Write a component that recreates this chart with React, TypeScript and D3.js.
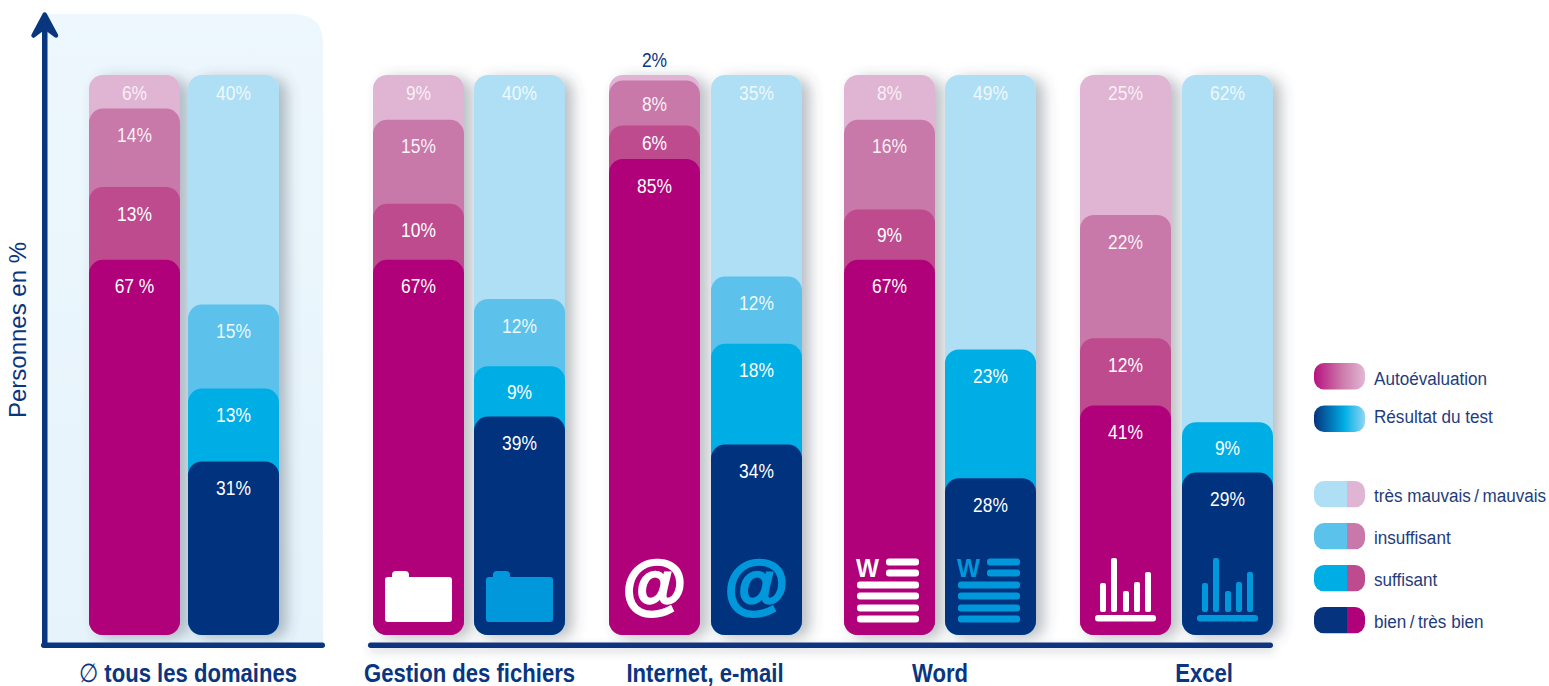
import React from "react";
import * as d3 from "d3";

const categories = ["∅ tous les domaines", "Gestion des fichiers", "Internet, e-mail", "Word", "Excel"];
// values bottom-to-top: bien/très bien, suffisant, insuffisant, très mauvais/mauvais
const selfGood = [67, 67, 85, 67, 41];
const selfFair = [13, 10, 6, 9, 12];
const selfPoor = [14, 15, 8, 16, 22];
const selfBad = [6, 9, 2, 8, 25];
const testGood = [31, 39, 34, 28, 29];
const testFair = [13, 9, 18, 23, 9];
const testPoor = [15, 12, 12, 0, 0];
const testBad = [40, 40, 35, 49, 62];
const selfColors = ["#b0007a", "#bd4b8e", "#c979a9", "#e0b5d3"];
const testColors = ["#06337e", "#00aee6", "#5bc2ec", "#afdff5"];
const legendLevels = ["très mauvais\u2009/\u2009mauvais", "insuffisant", "suffisant", "bien\u2009/\u2009très bien"];
const legendRows = ["Autoévaluation", "Résultat du test"];
const yTitle = "Personnes en %";

const NAVY = "#0a357f";
const TEXT = "#1f3c7c";
const SANS = "'Liberation Sans', Arial, sans-serif";
const BW = 91;
const R = 14;

const y = d3.scaleLinear().domain([0, 100]).range([635, 75]);
const selfX = d3.scaleOrdinal<string, number>().domain(categories).range([89, 373, 609, 844, 1080]);
const testX = d3.scaleOrdinal<string, number>().domain(categories).range([188, 474, 711, 945, 1182]);
const labelX = d3.scaleOrdinal<string, number>().domain(categories).range([188, 469.5, 705, 940, 1204]);

// Condensed text: no narrow face is installed, so a regular face is squeezed horizontally.
function Narrow({ x, y: py, sx, size, anchor, fill, opacity, weight, children }: any) {
  return (
    <text
      transform={`translate(${x},${py}) scale(${sx},1)`}
      dy="0.35em"
      textAnchor={anchor ?? "start"}
      fontFamily={SANS}
      fontSize={size}
      fontWeight={weight ?? 400}
      fill={fill}
      fillOpacity={opacity ?? 1}
    >
      {children}
    </text>
  );
}

function Stack({ x, values, colors, cat, bright }: { x: number; values: number[]; colors: string[]; cat: string; bright: boolean }) {
  const lastIdx = values.length - 1;
  let cum = 0;
  const segs = values.map((v, i) => {
    const lo = cum;
    cum += v;
    return { v, i, lo, hi: i === lastIdx ? 100 : Math.min(cum, 100) };
  });
  return (
    <g>
      <g filter="url(#barShadow)">
        {[...segs].reverse().filter((s) => s.v > 0).map((s) => (
          <rect key={s.i} x={x} y={y(s.hi)} width={BW} height={y(0) - y(s.hi)} rx={R} fill={colors[s.i]} />
        ))}
      </g>
      {segs.filter((s) => s.v > 0).map((s) => {
        const top = y(s.hi);
        const isTop = s.i === lastIdx;
        const h = y(s.lo) - y(s.hi);
        const tiny = s.v <= 2;
        const cy = tiny ? top - 15 : isTop ? top + 18 : top + Math.min(h / 2 + 0.5, 26.5);
        const fill = tiny ? NAVY : "#ffffff";
        const op = tiny ? 1 : isTop ? 0.8 : s.i === 2 ? 0.92 : 1;
        const label = bright && s.v === 67 && cat === categories[0] ? "67 %" : `${s.v}%`;
        return (
          <Narrow key={s.i} x={x + BW / 2} y={cy} sx={0.87} size={20} anchor="middle" fill={fill} opacity={op}>
            {label}
          </Narrow>
        );
      })}
    </g>
  );
}

function FolderIcon({ x, fill }: { x: number; fill: string }) {
  return (
    <g fill={fill}>
      <rect x={x + 12} y={577} width={67} height={45} rx={3} />
      <rect x={x + 19} y={571} width={17} height={12} rx={4} />
    </g>
  );
}

function AtIcon({ x, fill }: { x: number; fill: string }) {
  return (
    <text x={x + BW / 2} y={606} textAnchor="middle" fontFamily={SANS} fontWeight={700} fontSize={65} fill={fill} stroke={fill} strokeWidth={2.6}>
      @
    </text>
  );
}

function WordIcon({ x, fill }: { x: number; fill: string }) {
  const full = [585, 596, 608, 619];
  const short = [562, 573];
  return (
    <g fill={fill}>
      <text x={x + 12} y={577} fontFamily={SANS} fontWeight={700} fontSize={25} textLength={23} lengthAdjust="spacingAndGlyphs">
        W
      </text>
      {short.map((c) => <rect key={c} x={x + 42} y={c - 3.5} width={33} height={7} rx={3} />)}
      {full.map((c) => <rect key={c} x={x + 13} y={c - 3.5} width={62} height={7} rx={3} />)}
    </g>
  );
}

function ChartIcon({ x, fill }: { x: number; fill: string }) {
  const bars = [[23, 583], [34, 558], [46, 591], [57, 582], [68, 572]];
  return (
    <g fill={fill}>
      {bars.map(([o, t]) => <rect key={o} x={x + o - 3} y={t} width={6} height={612 - t} rx={2} />)}
      <rect x={x + 15} y={615} width={61} height={6.5} rx={3} />
    </g>
  );
}

const icons = [null, FolderIcon, AtIcon, WordIcon, ChartIcon];

export default function App() {
  const legendY = d3.scalePoint<string>().domain(legendLevels).range([481, 607]);
  return (
    <svg width={1549} height={686} viewBox="0 0 1549 686" style={{ position: "absolute", left: 0, top: 0, background: "#fff", display: "block" }}>
      <defs>
        <filter id="barShadow" x="-30%" y="-10%" width="170%" height="120%">
          <feDropShadow dx={8} dy={3} stdDeviation={7} floodColor="#44505c" floodOpacity={0.36} />
        </filter>
        <filter id="lineShadow" x="-5%" y="-300%" width="110%" height="700%">
          <feDropShadow dx={1} dy={4} stdDeviation={4} floodColor="#44505c" floodOpacity={0.22} />
        </filter>
        <linearGradient id="panelFill" x1="0" x2="0" y1="0" y2="1">
          <stop offset="0" stopColor="#edf7fd" />
          <stop offset="1" stopColor="#e6f3fb" />
        </linearGradient>
        <linearGradient id="legendSelf">
          <stop offset="0" stopColor="#b8107f" />
          <stop offset="0.55" stopColor="#cc7aab" />
          <stop offset="1" stopColor="#e2b8d4" />
        </linearGradient>
        <linearGradient id="legendTest">
          <stop offset="0" stopColor="#06337e" />
          <stop offset="0.6" stopColor="#00aee6" />
          <stop offset="1" stopColor="#8fd6f3" />
        </linearGradient>
      </defs>

      {/* panel */}
      <path d="M47,14 H293 Q323,14 323,44 V645 H47 Z" fill="url(#panelFill)" />

      {/* axes */}
      <g filter="url(#lineShadow)">
        <rect x={368} y={642.5} width={905} height={5.5} rx={2.7} fill={NAVY} />
      </g>
      <rect x={41} y={642.5} width={284} height={5.5} rx={2.7} fill={NAVY} />
      <rect x={42} y={16} width={5.5} height={631} fill={NAVY} />
      <path d="M33.5,35.5 L44.7,14.5 L56,35.5 L44.7,27 Z" stroke={NAVY} strokeWidth={4.5} strokeLinejoin="round" fill={NAVY} />

      <g transform="translate(26,330) rotate(-90)">
        <text textAnchor="middle" fontFamily={SANS} fontSize={24} fill={NAVY}>
          {yTitle}
        </text>
      </g>

      {/* bars */}
      {categories.map((c, i) => {
        const Icon = icons[i];
        const hasSym = c.startsWith("∅");
        return (
          <g key={c}>
            <Stack x={selfX(c)} cat={c} bright values={[selfGood[i], selfFair[i], selfPoor[i], selfBad[i]]} colors={selfColors} />
            <Stack x={testX(c)} cat={c} bright={false} values={[testGood[i], testFair[i], testPoor[i], testBad[i]]} colors={testColors} />
            {Icon && <Icon x={selfX(c)} fill="#ffffff" />}
            {Icon && <Icon x={testX(c)} fill="#0098db" />}
            <Narrow x={labelX(c)} y={673} sx={0.85} size={26} anchor="middle" fill={NAVY} weight={700}>
              {hasSym ? (
                <>
                  <tspan fontWeight={400}>∅</tspan>
                  {c.slice(1)}
                </>
              ) : c}
            </Narrow>
          </g>
        );
      })}

      {/* legend */}
      {legendRows.map((l, i) => {
        const top = [363, 405.5][i];
        return (
          <g key={l}>
            <rect x={1314} y={top} width={51} height={26.5} rx={10} fill={i === 0 ? "url(#legendSelf)" : "url(#legendTest)"} />
            <Narrow x={1374} y={[378, 416][i]} sx={0.9} size={19} fill={TEXT}>{l}</Narrow>
          </g>
        );
      })}
      {legendLevels.map((l, i) => {
        const cy = legendY(l)!;
        const idx = 3 - i;
        return (
          <g key={l}>
            <clipPath id={`lg${i}`}><rect x={1314} y={cy} width={51} height={26.5} rx={10} /></clipPath>
            <g clipPath={`url(#lg${i})`}>
              <rect x={1314} y={cy} width={33} height={26.5} fill={testColors[idx]} />
              <rect x={1347} y={cy} width={18} height={26.5} fill={selfColors[idx]} />
            </g>
            <Narrow x={1374} y={cy + 14} sx={0.9} size={19} fill={TEXT}>{l}</Narrow>
          </g>
        );
      })}
    </svg>
  );
}
